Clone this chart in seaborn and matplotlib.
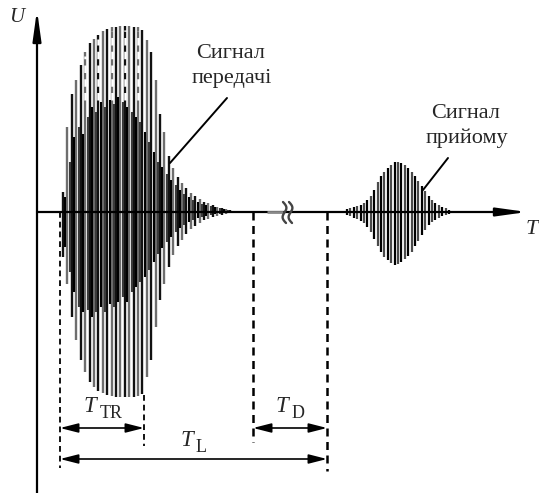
import numpy as np
import pandas as pd
import matplotlib
matplotlib.use("Agg")
import matplotlib.pyplot as plt
import seaborn as sns

# ---------------- data (pixel-like units) ----------------
# transmitted burst: bar positions and envelope amplitudes above / below the baseline
tx_x = [63, 67, 72, 76, 81, 85, 90, 94, 98, 103, 107, 112, 116, 120, 125, 129, 134, 138, 142,
        147, 151, 156, 160, 164, 169, 173, 178, 182, 186, 191, 195, 200, 204, 208, 213, 217,
        222, 226, 230]
tx_up = [20, 85, 118, 132, 147, 160, 169, 173, 177, 181, 183, 185, 185, 186, 186, 186, 185, 185,
         182, 172, 160, 132, 98, 80, 56, 44, 35, 29, 24, 19, 16, 13, 10, 9, 7, 5, 4, 3, 2]
tx_dn = [45, 72, 105, 128, 148, 160, 170, 175, 179, 181, 183, 184, 185, 185, 185, 185, 185, 184,
         182, 165, 148, 115, 88, 72, 55, 43, 34, 28, 22, 17, 14, 11, 8, 7, 5, 4, 3, 2, 1]

# inner (dark) oscillation of the transmitted burst
in_x = [65, 70, 74, 79, 83, 88, 92, 96, 101, 105, 110, 114, 118, 123, 127, 132, 136, 140, 145,
        149, 154, 158, 162, 167, 171, 176, 180, 184, 189, 193, 198, 202, 206, 211, 215, 220,
        224, 228]
in_up = [15, 50, 75, 85, 78, 95, 105, 100, 110, 105, 112, 108, 115, 110, 105, 100, 95, 90, 80,
         70, 60, 50, 45, 38, 32, 27, 22, 18, 15, 12, 10, 8, 7, 6, 5, 4, 3, 2]
in_dn = [35, 60, 80, 95, 100, 98, 105, 100, 95, 100, 92, 95, 90, 85, 90, 80, 75, 70, 65, 58,
         50, 42, 36, 30, 25, 20, 16, 13, 10, 8, 6, 5, 4, 3, 2, 2, 1, 1]

# received echo
rx_x = [347, 350, 354, 357, 361, 364, 367, 371, 374, 378, 381, 384, 388, 391, 395, 398, 401,
        405, 408, 412, 415, 418, 422, 425, 429, 432, 435, 439, 442, 446, 449]
rx_up = [3, 4, 5, 6, 7, 9, 12, 16, 22, 30, 36, 40, 44, 47, 50, 50, 49, 47, 44, 40, 36, 31, 26,
         21, 16, 12, 9, 7, 5, 4, 2]
rx_dn = [3, 4, 6, 7, 9, 11, 15, 20, 27, 34, 40, 45, 48, 51, 53, 52, 50, 47, 44, 40, 34, 29, 23,
         18, 13, 10, 8, 6, 4, 3, 2]

# time markers
t_start, t_tr, t_d_start, t_end = 60, 144, 253, 327
labels_sig = ["Сигнал\nпередачі", "Сигнал\nприйому"]

# ---------------- figure ----------------
sns.set_theme(style="white")
plt.rcParams["font.family"] = ["Liberation Serif", "DejaVu Serif"]

W, H = 539, 493
Y0 = 212  # baseline pixel row
def py(v):
    return Y0 - v

fig = plt.figure(figsize=(W / 100, H / 100), dpi=100)
ax = fig.add_axes([0, 0, 1, 1])
ax.set_xlim(0, W)
ax.set_ylim(Y0 - H, Y0)
ax.set_axis_off()

tx = pd.DataFrame({"x": tx_x, "up": tx_up, "dn": tx_dn})
inn = pd.DataFrame({"x": in_x, "up": in_up, "dn": in_dn})
rx = pd.DataFrame({"x": rx_x, "up": rx_up, "dn": rx_dn})

# outer bars of the transmitted burst, alternating black / grey
cols = ["#111111" if i % 2 == 0 else "#6e6e6e" for i in range(len(tx))]
ax.vlines(tx["x"], -tx["dn"], tx["up"], colors=cols, lw=1.7, zorder=2)
# dashed white breaks in the upper part of some bars
sel = tx.iloc[5:19:3]
ax.vlines(sel["x"], 112, sel["up"] - 4, colors="white", lw=1.8,
          linestyles=(0, (3, 2.5)), zorder=3)
# inner dark oscillation
cols_in = ["#000000" if i % 2 == 0 else "#3a3a3a" for i in range(len(inn))]
ax.vlines(inn["x"], -inn["dn"], inn["up"], colors=cols_in, lw=1.5, zorder=4)

# received echo
cols_rx = ["#000000" if i % 2 == 0 else "#4a4a4a" for i in range(len(rx))]
ax.vlines(rx["x"], -rx["dn"], rx["up"], colors=cols_rx, lw=1.6, zorder=4)

# axes with arrows
ax.annotate("", xy=(527, 0), xytext=(37, 0),
            arrowprops=dict(arrowstyle="-|>,head_length=1.8,head_width=0.25",
                            mutation_scale=10, lw=1.6, color="black",
                            shrinkA=0, shrinkB=0), zorder=5)
ax.annotate("", xy=(37, py(10)), xytext=(37, py(493)),
            arrowprops=dict(arrowstyle="-|>,head_length=1.8,head_width=0.25",
                            mutation_scale=10, lw=1.6, color="black",
                            shrinkA=0, shrinkB=0), zorder=5)
# lighter section of the axis near the break
ax.plot([267, 283], [0, 0], color="#8a8a8a", lw=2.0, zorder=6, solid_capstyle="butt")

# break mark
tt = np.linspace(0, 1, 40)
for x0 in (283, 289):
    ax.plot(x0 + 2.6 * np.sin(np.pi * tt * 2) + 3 * tt, 10 - 21 * tt,
            color="#444444", lw=1.7, zorder=7)

# dashed vertical markers
dash = (0, (3.2, 2.2))
ax.plot([t_start, t_start], [0, py(468)], color="black", lw=1.3, ls=dash, zorder=1)
ax.plot([t_tr, t_tr], [py(395), py(446)], color="black", lw=1.3, ls=dash, zorder=1)
ax.plot([t_d_start, t_d_start], [0, py(442)], color="black", lw=1.8, ls=dash, zorder=1)
ax.plot([t_end, t_end], [0, py(471)], color="black", lw=1.8, ls=dash, zorder=1)

# dimension arrows
def dim(x1, x2, yp):
    ax.annotate("", xy=(x2, py(yp)), xytext=(x1, py(yp)),
                arrowprops=dict(arrowstyle="<|-|>,head_length=1.1,head_width=0.28",
                                mutation_scale=10, lw=1.2, color="black",
                                shrinkA=0, shrinkB=0))

dim(t_start, t_tr, 428)
dim(t_d_start, t_end, 428)
dim(t_start, t_end, 459)

def lab(xc, yc, main, sub, xs, ys):
    ax.text(xc, py(yc), main, fontsize=16.5, style="italic", ha="center", va="center")
    ax.text(xs, py(ys), sub, fontsize=13, ha="center", va="center")

lab(90, 406, "T", "TR", 111, 413)
lab(281.5, 406, "T", "D", 298, 413)
lab(186.5, 440, "T", "L", 201.5, 447)

ax.text(16.5, py(18), "U", fontsize=15, style="italic", ha="center", va="center")
ax.text(532, py(229), "T", fontsize=16, style="italic", ha="center", va="center")

# signal annotations
t1, t2 = labels_sig[0].split("\n")
ax.text(231, py(58), t1, fontsize=16, ha="center", va="baseline")
ax.text(232, py(83), t2, fontsize=16, ha="center", va="baseline")
r1, r2 = labels_sig[1].split("\n")
ax.text(466, py(118), r1, fontsize=16, ha="center", va="baseline")
ax.text(467, py(143), r2, fontsize=16, ha="center", va="baseline")

ax.plot([227, 170], [py(98), py(163)], color="black", lw=1.4, zorder=8)
ax.plot([448, 423], [py(158), py(190)], color="black", lw=1.4, zorder=8)

fig.savefig("out.png", dpi=100)
